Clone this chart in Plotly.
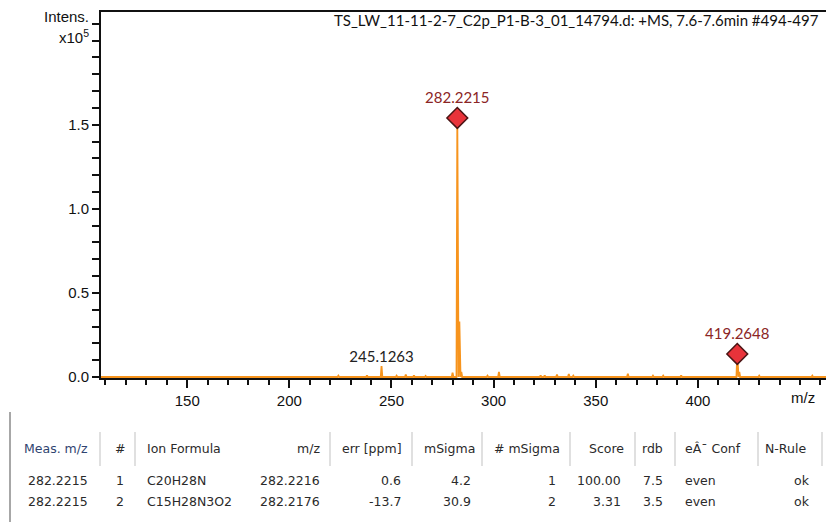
import plotly.graph_objects as go

# ---------------- data ----------------
peak_mz = [224.0, 238.0, 245.1263, 252.5, 257.0, 261.0, 266.7, 279.9, 282.2215, 283.2249,
           284.2, 297.0, 302.6, 323.0, 325.0, 331.0, 336.8, 339.0, 365.7, 378.0,
           383.0, 391.8, 419.2648, 420.27, 430.0, 456.0]
peak_int = [0.008, 0.010, 0.065, 0.008, 0.015, 0.010, 0.006, 0.025, 1.54, 0.33,
            0.030, 0.008, 0.030, 0.010, 0.010, 0.015, 0.018, 0.008, 0.020, 0.008,
            0.008, 0.010, 0.137, 0.030, 0.008, 0.008]

marked_mz = [282.2215, 419.2648]
marked_int = [1.54, 0.137]
marked_labels = ["282.2215", "419.2648"]
plain_label_mz = [245.1263]
plain_label_int = [0.065]
plain_labels = ["245.1263"]

x_range = [107.8, 462.7]
x_tickvals = [150, 200, 250, 300, 350, 400]
x_ticklabels = ["150", "200", "250", "300", "350", "400"]
y_range = [-0.006, 2.17]
y_tickvals = [round(0.1 * i, 1) for i in range(22)]
y_ticklabels = {0.0: "0.0", 0.5: "0.5", 1.0: "1.0", 1.5: "1.5"}
y_unit_labels = [(2.0, "x10<sup>5</sup>", -7), (2.1, "Intens.", -3)]

title_text = "TS_LW_11-11-2-7_C2p_P1-B-3_01_14794.d: +MS, 7.6-7.6min #494-497"

table_headers = ["Meas. m/z", "#", "Ion Formula", "m/z", "err [ppm]", "mSigma", "# mSigma",
                 "Score", "rdb", "eÂ¯ Conf", "N-Rule"]
table_rows = [
    ["282.2215", "1", "C20H28N", "282.2216", "0.6", "4.2", "1", "100.00", "7.5", "even", "ok"],
    ["282.2215", "2", "C15H28N3O2", "282.2176", "-13.7", "30.9", "2", "3.31", "3.5", "even", "ok"],
]

# ---------------- layout constants ----------------
W, H = 826, 524
L, R, T, B = 101, 826, 12, 378

def px_x(px):
    return (px - L) / (R - L)

def px_y(py):
    return (B - py) / (B - T)

col_hdr_x = [22, 120, 145, 322, 340, 422, 492, 587, 640, 683, 763]
col_hdr_align = ["left", "center", "left", "right", "left", "left", "left", "left", "left", "left", "left"]
col_val_x = [90, 120, 145, 322, 403, 473, 558, 623, 665, 683, 812]
col_val_align = ["right", "center", "left", "right", "right", "right", "right", "right", "right", "left", "right"]
separators_x = [100, 135, 330, 412, 482, 570, 635, 675, 758, 822]
hdr_y, row_y = 448, [480, 501]

# ---------------- spectrum as profile line ----------------
xs, ys = [x_range[0]], [0.0]
for m, h in sorted(zip(peak_mz, peak_int)):
    xs += [m - 0.4, m, m + 0.4]
    ys += [0.0, h, 0.0]
xs.append(x_range[1])
ys.append(0.0)

orange = "#f7941d"
fig = go.Figure()
fig.add_trace(go.Scatter(x=xs, y=ys, mode="lines", line=dict(color=orange, width=1.8),
                         hoverinfo="skip", showlegend=False))
fig.add_trace(go.Scatter(x=marked_mz, y=marked_int, mode="markers+text",
                         marker=dict(symbol="diamond", size=16, color="#e8333a",
                                     line=dict(color="#4a1414", width=1.5)),
                         text=marked_labels, textposition="top center",
                         textfont=dict(family="Lato", size=15, color="#8b2525"),
                         cliponaxis=False, showlegend=False, hoverinfo="skip"))
fig.add_trace(go.Scatter(x=plain_label_mz, y=plain_label_int, mode="text",
                         text=plain_labels, textposition="top center",
                         textfont=dict(family="Lato", size=15, color="#222222"),
                         cliponaxis=False, showlegend=False, hoverinfo="skip"))

tick_font = dict(family="Liberation Sans, Arial", size=15, color="#111111")
fig.update_layout(
    width=W, height=H,
    margin=dict(l=L, r=W - R, t=T, b=H - B),
    paper_bgcolor="white", plot_bgcolor="white",
    xaxis=dict(range=x_range, showgrid=False, zeroline=False,
               showline=True, linecolor="#111111", linewidth=2, mirror=True,
               ticks="outside", ticklen=8, tickwidth=2, tickcolor="#111111",
               tickvals=x_tickvals, ticktext=x_ticklabels, tickfont=tick_font,
               minor=dict(dtick=10, tick0=0, ticks="outside", ticklen=5, tickwidth=2,
                          tickcolor="#111111", showgrid=False),
               layer="below traces"),
    yaxis=dict(range=y_range, showgrid=False, zeroline=False,
               showline=True, linecolor="#111111", linewidth=2,
               ticks="outside", ticklen=7, tickwidth=2, tickcolor="#111111",
               tickvals=y_tickvals,
               ticktext=[y_ticklabels.get(v, "") for v in y_tickvals],
               tickfont=tick_font, layer="below traces"),
)

annotations = [
    dict(text=title_text, xref="paper", yref="paper", x=px_x(821), y=px_y(20),
         xanchor="right", yanchor="middle", showarrow=False,
         font=dict(family="Lato", size=15, color="#111111")),
    dict(text="m/z", xref="paper", yref="paper", x=px_x(817), y=px_y(397),
         xanchor="right", yanchor="middle", showarrow=False, font=tick_font),
]
for val, txt, ysh in y_unit_labels:
    annotations.append(dict(text=txt, xref="paper", yref="y", x=px_x(91), y=val,
                            xanchor="right", yanchor="bottom", yshift=ysh, showarrow=False,
                            font=tick_font))

hdr_colors = ["#2f4470"] + ["#2a2a2a"] * (len(table_headers) - 1)
tbl_font = "DejaVu Sans"
for i, h in enumerate(table_headers):
    annotations.append(dict(text=h, xref="paper", yref="paper", x=px_x(col_hdr_x[i]), y=px_y(hdr_y),
                            xanchor=col_hdr_align[i], yanchor="middle", showarrow=False,
                            font=dict(family=tbl_font, size=12.5, color=hdr_colors[i])))
for r, row in enumerate(table_rows):
    for i, v in enumerate(row):
        annotations.append(dict(text=v, xref="paper", yref="paper", x=px_x(col_val_x[i]), y=px_y(row_y[r]),
                                xanchor=col_val_align[i], yanchor="middle", showarrow=False,
                                font=dict(family=tbl_font, size=12.5, color="#2a2a2a")))
fig.update_layout(annotations=annotations)

shapes = [dict(type="line", xref="paper", yref="paper", x0=px_x(10), x1=px_x(10),
               y0=px_y(412), y1=px_y(522), line=dict(color="#8a8a8a", width=1.5))]
for sx in separators_x:
    shapes.append(dict(type="line", xref="paper", yref="paper", x0=px_x(sx), x1=px_x(sx),
                       y0=px_y(432), y1=px_y(466), line=dict(color="#d6d6d6", width=1.5)))
fig.update_layout(shapes=shapes)

fig.write_html("out.html")
